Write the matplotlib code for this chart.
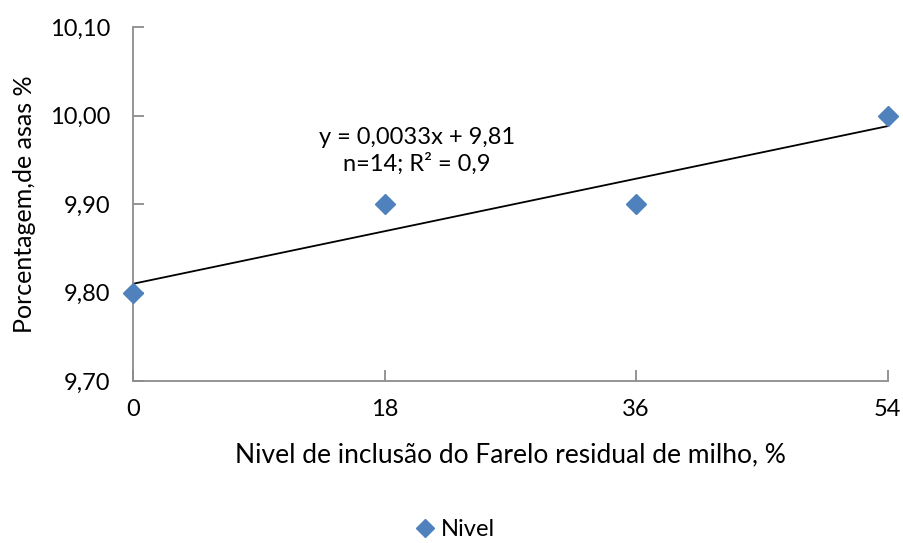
import numpy as np
import matplotlib
matplotlib.use("Agg")
import matplotlib.pyplot as plt

plt.rcParams['font.family'] = ['Lato', 'DejaVu Sans']

# dados
nivel = [0, 18, 36, 54]
porcentagem = [9.80, 9.90, 9.90, 10.00]
coef_a = 0.0033
coef_b = 9.81
x_ticks = [0, 18, 36, 54]
y_ticks = [9.70, 9.80, 9.90, 10.00, 10.10]
y_labels = ['9,70', '9,80', '9,90', '10,00', '10,10']

fig = plt.figure(figsize=(9.04, 5.43), dpi=100)
ax = fig.add_axes([0.147, 0.298, 0.835, 0.652])

xs = np.array([nivel[0], nivel[-1]])
ax.plot(xs, coef_a * xs + coef_b, color='black', lw=1.3, zorder=2)
ax.plot(nivel, porcentagem, 'D', color='#4F81BD', ms=10, mec='#4F81BD',
        label='Nivel', zorder=3, clip_on=False)

ax.set_xlim(0, 54)
ax.set_ylim(9.70, 10.10)
ax.set_xticks(x_ticks)
ax.set_xticklabels([str(v) for v in x_ticks])
ax.set_yticks(y_ticks)
ax.set_yticklabels(y_labels)

for s in ['top', 'right']:
    ax.spines[s].set_visible(False)
for s in ['left', 'bottom']:
    ax.spines[s].set_color('#8c8c8c')
    ax.spines[s].set_linewidth(1.3)
ax.tick_params(direction='in', length=8, width=1.3, color='#8c8c8c',
               labelsize=17)
ax.tick_params(axis='y', pad=16)
ax.tick_params(axis='x', pad=13)

ax.text(20.3, 9.96, 'y = 0,0033x + 9,81\nn=14; R² = 0,9', ha='center', va='center',
        fontsize=17, linespacing=1.25)

ax.set_xlabel('Nivel de inclusão do Farelo residual de milho, %', fontsize=19, labelpad=16)
ax.set_ylabel('Porcentagem,de asas %', fontsize=18, labelpad=10)

fig.legend(loc='center', bbox_to_anchor=(0.503, 0.024), frameon=False,
           fontsize=17, handlelength=0.9, handletextpad=0.25, markerscale=0.9)

fig.savefig('out.png', dpi=100)
